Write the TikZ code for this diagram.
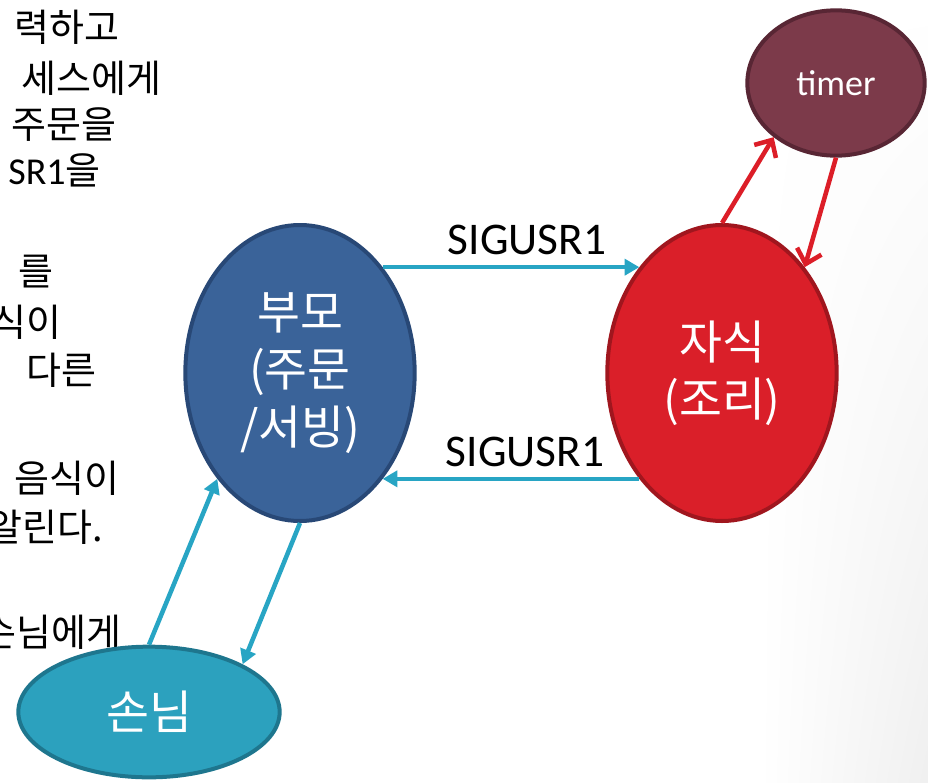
\documentclass[tikz,border=0pt]{standalone}
\usepackage{fontspec}
\setmainfont{Noto Sans CJK KR}
\newfontfamily\latin{Carlito}
\usetikzlibrary{shapes.geometric,arrows.meta,shadings}
\definecolor{parentblue}{RGB}{58,99,153}
\definecolor{parentrim}{RGB}{40,72,118}
\definecolor{childred}{RGB}{218,31,41}
\definecolor{childrim}{RGB}{160,22,30}
\definecolor{timerwine}{RGB}{124,58,74}
\definecolor{timerrim}{RGB}{88,38,52}
\definecolor{guestteal}{RGB}{44,161,190}
\definecolor{guestrim}{RGB}{30,118,142}
\definecolor{sigteal}{RGB}{40,165,196}
\definecolor{tickred}{RGB}{220,30,40}
\newcommand{\notesize}{\fontsize{28.5}{35}\selectfont}
\newcommand{\procsize}{\fontsize{35}{43}\selectfont}

\begin{document}
\begin{tikzpicture}[x=0.75pt,y=-0.75pt,
	proc/.style={ellipse,draw,line width=3pt,inner sep=0pt,text=white,align=center},
	sig/.style={line width=3.4pt,draw=sigteal,-{Triangle[length=11pt,width=12pt]}},
	tick/.style={line width=3.4pt,draw=tickred,-{Straight Barb[length=10pt,width=19pt]}},
	note/.style={anchor=east,inner sep=0pt,font=\notesize},
	big/.style={font=\procsize}]
	%page
		\clip (0,0) rectangle (928,782);
		\shade[upper left=white,upper right=white,lower left=white,lower right=black!6] (760,0) rectangle (928,782);
	%left text (cut off)
		\node[note] (n1) at (120,27) {력하고};
		\node[note] (n2) at (162,78) {세스에게};
		\node[note] (n3) at (117,125) {주문을};
		\node[note] (n4) at (101,170) {{\latin SR1}을};
		\node[note] (n5) at (54,272) {를};
		\node[note] (n6) at (62,322) {식이};
		\node[note] (n7) at (97,370) {다른};
		\node[note] (n8) at (120,478) {음식이};
		\node[note] (n9) at (103,527) {알린다.};
		\node[note] (n10) at (122,632) {손님에게};
	%processes
		\node[proc,big,fill=parentblue,draw=parentrim,minimum width=172pt,minimum height=222pt] (parent) at (300,373) {부모\\(주문\\/서빙)};
		\node[proc,big,fill=childred,draw=childrim,minimum width=172pt,minimum height=222pt] (child) at (722,373) {자식\\(조리)};
		\node[proc,fill=timerwine,draw=timerrim,minimum width=133pt,minimum height=109pt,font=\latin\fontsize{27}{32}\selectfont] (timer) at (836,83) {timer};
		\node[proc,big,fill=guestteal,draw=guestrim,minimum width=196pt,minimum height=98pt] (guest) at (149,712) {손님};
	%signals
		\draw[sig] (parent.52) -- (child.128);
		\node[font=\latin\fontsize{34}{40}\selectfont] (sigup) at (527,240) {SIGUSR1};
		\draw[sig] (child.232) -- (parent.308);
		\node[font=\latin\fontsize{34}{40}\selectfont] (sigdown) at (525,452) {SIGUSR1};
	%guest
		\draw[sig] (guest.north) -- (parent.232);
		\draw[sig] (parent.south) -- (guest.27);
	%timer
		\draw[tick] (child.north) -- (timer.221);
		\draw[tick] (timer.south) -- (child.52);
\end{tikzpicture}
\end{document}
